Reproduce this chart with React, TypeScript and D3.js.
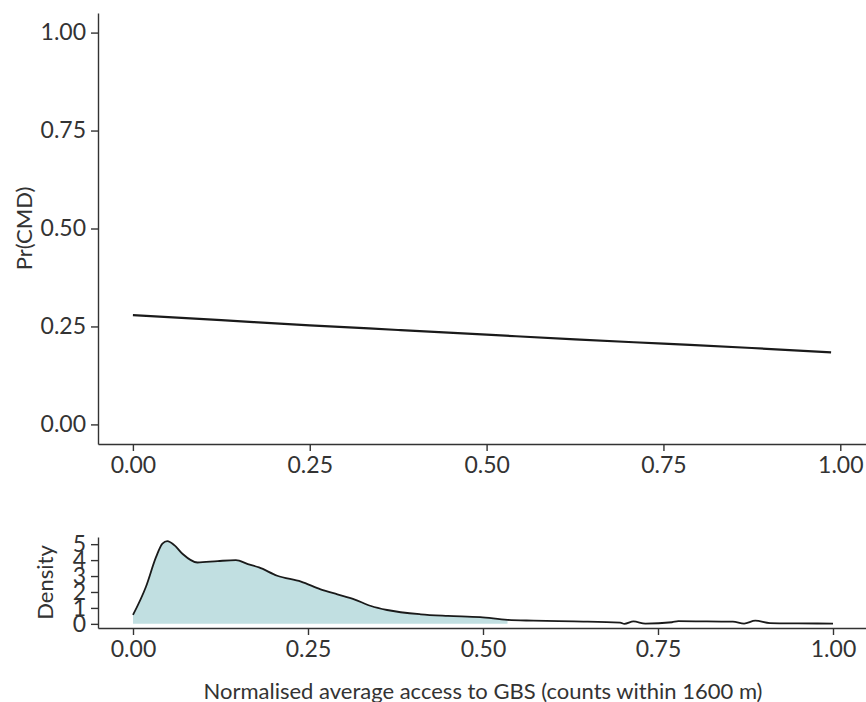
import React, { useEffect, useRef } from 'react';
import * as d3 from 'd3';

// Predicted probability line (top panel)
const lineX = [0, 0.125, 0.25, 0.375, 0.5, 0.625, 0.75, 0.875, 0.987];
const lineY = [0.279, 0.266, 0.253, 0.241, 0.229, 0.217, 0.206, 0.195, 0.184];

// Density of the exposure (bottom panel)
const densX = [
  0, 0.0185, 0.033, 0.042, 0.049, 0.059, 0.071, 0.092, 0.121, 0.147, 0.164, 0.18,
  0.206, 0.24, 0.268, 0.292, 0.316, 0.34, 0.363, 0.411, 0.45, 0.496, 0.535, 0.572,
  0.63, 0.696, 0.702, 0.715, 0.732, 0.77, 0.779, 0.82, 0.857, 0.873, 0.889, 0.91,
  0.95, 1.0,
];
const densY = [
  0.56, 2.33, 4.2, 5.04, 5.19, 4.94, 4.38, 3.85, 3.94, 4.0, 3.75, 3.54,
  3.02, 2.65, 2.17, 1.85, 1.54, 1.12, 0.87, 0.6, 0.5, 0.42, 0.25, 0.2,
  0.15, 0.08, 0.0, 0.15, 0.02, 0.1, 0.17, 0.15, 0.14, 0.02, 0.2, 0.05,
  0.03, 0.02,
];

const topYTicks = [0, 0.25, 0.5, 0.75, 1];
const xTicks = [0, 0.25, 0.5, 0.75, 1];
const densTicks = [0, 1, 2, 3, 4, 5];

const xTitle = 'Normalised average access to GBS (counts within 1600 m)';
const topYTitle = 'Pr(CMD)';
const bottomYTitle = 'Density';

const FILL_MAX = 0.56;

// ggplot-style 5% expansion
const expand = (lo: number, hi: number): [number, number] => {
  const pad = (hi - lo) * 0.05;
  return [lo - pad, hi + pad];
};

const App = () => {
  const ref = useRef<SVGSVGElement>(null);
  const width = 866;
  const height = 702;

  useEffect(() => {
    const svg = d3.select(ref.current);
    svg.selectAll('*').remove();

    const font = 'Lato, "Open Sans", sans-serif';
    const axisColor = '#333';
    const tickFont = 23;
    const titleFont = 22;

    const left = 98;
    const top = { x0: left, x1: 866, y0: 13, y1: 444 };
    const bot = { x0: left, x1: 868, y0: 537, y1: 628 };

    const xTop = d3.scaleLinear().domain(expand(0, d3.max(lineX)!)).range([top.x0, top.x1]);
    const yTop = d3.scaleLinear().domain(expand(0, 1)).range([top.y1, top.y0]);
    const xBot = d3.scaleLinear().domain(expand(0, d3.max(densX)!)).range([bot.x0, bot.x1]);
    const yBot = d3.scaleLinear().domain(expand(0, d3.max(densY)!)).range([bot.y1, bot.y0]);

    const styleAxis = (g: d3.Selection<SVGGElement, unknown, null, undefined>) => {
      g.selectAll('path.domain').attr('stroke', axisColor).attr('stroke-width', 1.4);
      g.selectAll('.tick line').attr('stroke', axisColor).attr('stroke-width', 1.4);
      g.selectAll('.tick text')
        .attr('fill', axisColor)
        .style('font-family', font)
        .style('font-size', `${tickFont}px`);
    };

    // Top panel axes
    svg.append('g')
      .attr('transform', `translate(0,${top.y1})`)
      .call(d3.axisBottom(xTop).tickValues(xTicks).tickFormat(d3.format('.2f')).tickSize(7).tickSizeOuter(0).tickPadding(6))
      .call(styleAxis as any);

    svg.append('g')
      .attr('transform', `translate(${top.x0},0)`)
      .call(d3.axisLeft(yTop).tickValues(topYTicks).tickFormat(d3.format('.2f')).tickSize(7).tickSizeOuter(0).tickPadding(5))
      .call(styleAxis as any);

    // Bottom panel axes
    svg.append('g')
      .attr('transform', `translate(0,${bot.y1})`)
      .call(d3.axisBottom(xBot).tickValues(xTicks).tickFormat(d3.format('.2f')).tickSize(7).tickSizeOuter(0).tickPadding(6))
      .call(styleAxis as any);

    svg.append('g')
      .attr('transform', `translate(${bot.x0},0)`)
      .call(d3.axisLeft(yBot).tickValues(densTicks).tickFormat(d3.format('d')).tickSize(7).tickSizeOuter(0).tickPadding(5))
      .call(styleAxis as any);

    // Probability line
    const lineData = lineX.map((x, i) => ({ x, y: lineY[i] }));
    svg.append('path')
      .datum(lineData)
      .attr('fill', 'none')
      .attr('stroke', '#1a1a1a')
      .attr('stroke-width', 2.2)
      .attr('d', d3.line<{ x: number; y: number }>()
        .x(d => xTop(d.x))
        .y(d => yTop(d.y))
        .curve(d3.curveMonotoneX));

    // Density fill + line
    const densData = densX.map((x, i) => ({ x, y: densY[i] }));
    svg.append('path')
      .datum(densData.filter(d => d.x <= FILL_MAX))
      .attr('fill', '#c1dfe1')
      .attr('d', d3.area<{ x: number; y: number }>()
        .x(d => xBot(d.x))
        .y0(yBot(0))
        .y1(d => yBot(d.y))
        .curve(d3.curveMonotoneX));

    svg.append('path')
      .datum(densData)
      .attr('fill', 'none')
      .attr('stroke', '#1a1a1a')
      .attr('stroke-width', 1.8)
      .attr('d', d3.line<{ x: number; y: number }>()
        .x(d => xBot(d.x))
        .y(d => yBot(d.y))
        .curve(d3.curveMonotoneX));

    // Titles
    svg.append('text')
      .attr('x', (bot.x0 + bot.x1) / 2 + 0)
      .attr('y', 699)
      .attr('text-anchor', 'middle')
      .attr('fill', axisColor)
      .style('font-family', font)
      .style('font-size', `${titleFont}px`)
      .text(xTitle);

    svg.append('text')
      .attr('transform', `translate(32,${(top.y0 + top.y1) / 2}) rotate(-90)`)
      .attr('text-anchor', 'middle')
      .attr('fill', axisColor)
      .style('font-family', font)
      .style('font-size', `${titleFont}px`)
      .text(topYTitle);

    svg.append('text')
      .attr('transform', `translate(53,${(bot.y0 + bot.y1) / 2}) rotate(-90)`)
      .attr('text-anchor', 'middle')
      .attr('fill', axisColor)
      .style('font-family', font)
      .style('font-size', `${titleFont}px`)
      .text(bottomYTitle);
  }, []);

  return (
    <svg
      ref={ref}
      width={width}
      height={height}
      style={{ position: 'absolute', left: 0, top: 0, background: '#fff' }}
    />
  );
};

export default App;
